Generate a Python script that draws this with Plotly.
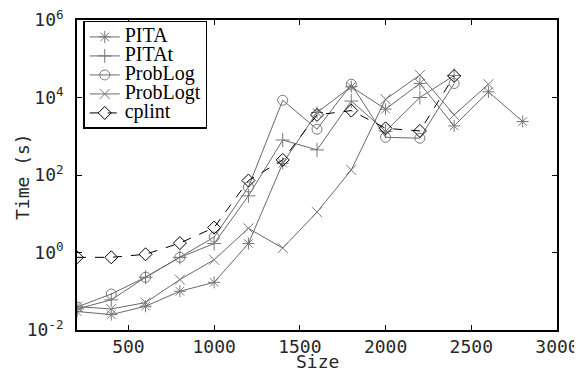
import plotly.graph_objects as go

sizes = [200, 400, 600, 800, 1000, 1200, 1400, 1600, 1800, 2000, 2200, 2400, 2600, 2800]
pita = [0.030, 0.025, 0.041, 0.10, 0.17, 1.7, 200, 4100, 19000, 5000, 23000, 1850, 14000, 2400]
pitat = [0.035, 0.06, 0.23, 0.75, 1.7, 29, 800, 445, 8100, 1350, 10000, 37000]
problog = [0.039, 0.085, 0.23, 0.75, 2.5, 49, 8500, 1520, 22000, 940, 890, 23000]
problogt = [0.04, 0.035, 0.051, 0.2, 0.65, 4.2, 1.3, 11, 135, 9000, 38000, 3550, 22000]
cplint = [0.75, 0.75, 0.9, 1.75, 4.4, 72, 245, 3550, 4600, 1600, 1370, 36000]

ytickvals = [1e-2, 1, 1e2, 1e4, 1e6]
yticktext = ["10<sup>-2</sup>", "10<sup>0</sup>", "10<sup>2</sup>", "10<sup>4</sup>", "10<sup>6</sup>"]
xtickvals = [500, 1000, 1500, 2000, 2500, 3000]

gray = "rgb(105,105,105)"
mgray = "rgb(120,120,120)"

series = [
    ("PITA", pita, "asterisk-open", gray, mgray, "solid"),
    ("PITAt", pitat, "cross-thin-open", gray, mgray, "solid"),
    ("ProbLog", problog, "circle-open", gray, mgray, "solid"),
    ("ProbLogt", problogt, "x-thin-open", gray, mgray, "solid"),
    ("cplint", cplint, "diamond-open", "black", "black", "dash"),
]

fig = go.Figure()
for name, vals, sym, lc, mc, dash in series:
    fig.add_trace(go.Scatter(
        x=sizes[:len(vals)], y=vals,
        name='<span style="font-size:20px">' + name + '</span>',
        mode="lines+markers",
        line=dict(color=lc, width=1, dash=dash),
        marker=dict(symbol=sym, size=10, color=mc, line=dict(color=mc, width=1)),
    ))

mono = "DejaVu Sans Mono"
tcol = "rgb(40,40,40)"
fig.update_layout(
    width=582, height=373,
    margin=dict(l=69, r=33, t=12, b=51),
    plot_bgcolor="white", paper_bgcolor="white",
    showlegend=True,
    legend=dict(
        x=0.013, y=0.997, xanchor="left", yanchor="top",
        bgcolor="white", bordercolor="black", borderwidth=1.5,
        font=dict(family="Liberation Serif, Times New Roman, serif", size=12, color="black"),
        tracegroupgap=0, itemwidth=30,
    ),
    xaxis=dict(
        range=[200, 3000], tickvals=xtickvals, automargin=False,
        ticklabeloverflow="allow",
        showline=True, linecolor="black", linewidth=1.5, mirror="ticks",
        ticks="inside", ticklen=5, tickcolor="black",
        showgrid=False, zeroline=False,
        tickfont=dict(family=mono, size=18, color=tcol),
    ),
    yaxis=dict(
        type="log", range=[-2, 6], tickvals=ytickvals, ticktext=yticktext,
        automargin=False, ticklabeloverflow="allow",
        showline=True, linecolor="black", linewidth=1.5, mirror="ticks",
        ticks="inside", ticklen=5, tickcolor="black",
        showgrid=False, zeroline=False, ticklabelstandoff=8,
        tickfont=dict(family=mono, size=18, color=tcol),
    ),
    annotations=[
        dict(text="Size", xref="paper", yref="paper", x=0.5, y=-0.06,
             xanchor="center", yanchor="top", showarrow=False,
             font=dict(family=mono, size=18, color=tcol)),
        dict(text="Time (s)", xref="paper", yref="paper", x=-0.115, y=0.496,
             xanchor="center", yanchor="middle", showarrow=False, textangle=-90,
             font=dict(family=mono, size=18, color=tcol)),
    ],
)

fig.write_html("out.html")
